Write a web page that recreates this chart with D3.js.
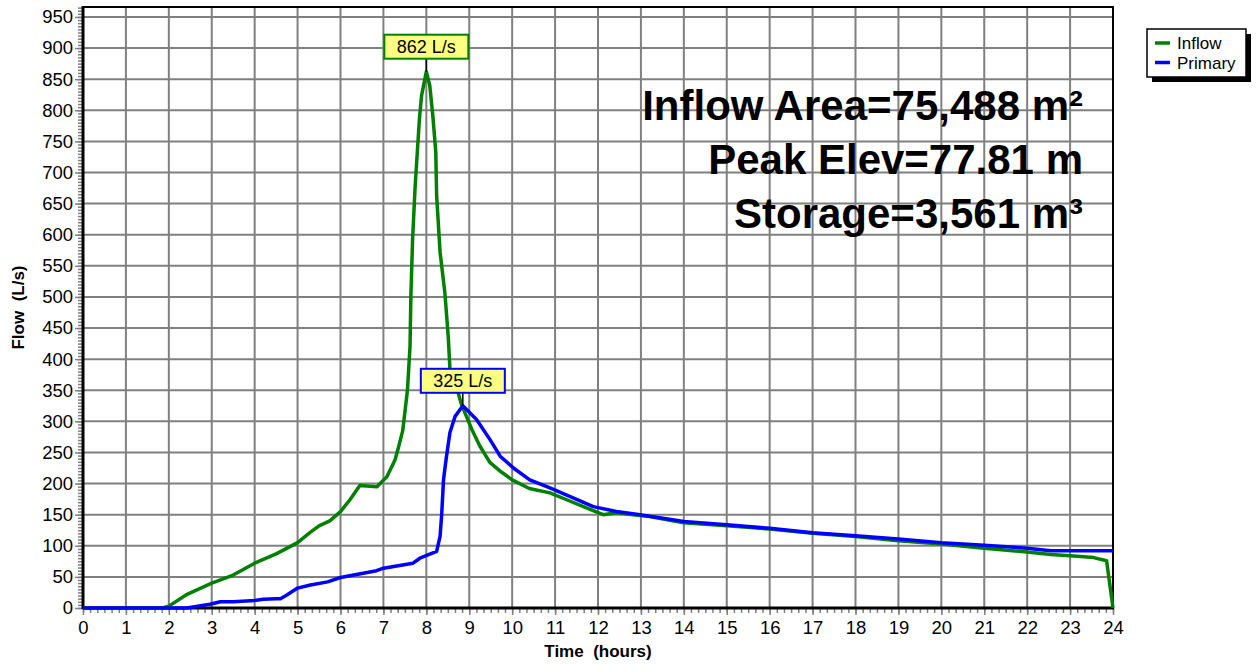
<!DOCTYPE html>
<html>
<head>
<meta charset="utf-8">
<script src="https://cdn.jsdelivr.net/npm/d3@7"></script>
<style>
  body { margin: 0; background: #fff; }
  text { font-family: "Liberation Sans", Arial, sans-serif; white-space: pre; }
</style>
</head>
<body>
<div id="chartDiv"></div>
<script>
// hydrograph values (hours, L/s)
const inflowTime = [0, 1.85, 2.0, 2.4, 3.0, 3.5, 4.0, 4.5, 5.0, 5.3, 5.5, 5.75, 6.0, 6.22, 6.45, 6.85, 7.08, 7.27, 7.35, 7.45, 7.56, 7.62, 7.64, 7.68, 7.74, 7.79, 7.84, 7.89, 8.0,
  8.08, 8.15, 8.22, 8.24, 8.32, 8.43, 8.51, 8.55, 8.74, 8.82, 9.06, 9.25, 9.48, 9.72, 10.0, 10.4, 10.88, 11.27, 11.73, 12.12, 12.43, 12.82, 13.2,
  14, 15, 16, 17, 18, 19, 20, 21, 22, 22.55, 23, 23.55, 23.85, 24.0];
const inflowFlow = [0, 0, 3, 21, 40, 53, 72, 87, 105, 122, 132, 140, 155, 174, 197, 195, 211, 238, 258, 285, 350, 421, 502, 593, 679, 733, 787, 824, 862,
  840, 792, 733, 663, 572, 508, 437, 384, 346, 327, 287, 260, 234, 220, 206, 192, 185, 174, 161, 150, 153, 150, 147,
  137, 132, 127, 120, 115, 108, 103, 96, 90, 86, 84, 81, 76, 0];

const primaryTime = [0, 2.42, 2.96, 3.2, 3.5, 3.7, 4.0, 4.2, 4.5, 4.6, 4.75, 5.0, 5.3, 5.7, 6.0, 6.84, 7.0, 7.69, 7.85, 8.24, 8.32, 8.36, 8.4, 8.47, 8.55, 8.67, 8.85,
  9.17, 9.48, 9.72, 10.03, 10.41, 10.88, 11.42, 11.89, 12.43, 12.98, 14, 15, 16, 17, 18, 19, 20, 21, 22, 22.55, 23, 24];
const primaryFlow = [0, 0, 6, 10, 10, 11, 12, 14, 15, 15, 21, 32, 37, 42, 49, 60, 64, 72, 80, 91, 115, 153, 206, 244, 282, 308, 325,
  303, 271, 244, 225, 206, 193, 177, 163, 155, 150, 139, 134, 128, 121, 116, 111, 105, 101, 96, 92, 92, 92];

const seriesNames = ["Inflow", "Primary"];
const seriesColors = ["#008000", "#0000ff"];

const peakLabels = ["862 L/s", "325 L/s"];
const peakTimes = [8.0, 8.85];
const peakFlows = [862, 325];

const infoLines = ["Inflow Area=75,488 m²", "Peak Elev=77.81 m", "Storage=3,561 m³"];

const xTickValues = d3.range(0, 25, 1);
const yTickValues = d3.range(0, 951, 50);

const width = 1257, height = 664;
const plotLeft = 83, plotRight = 1113, plotTop = 7, plotBottom = 608;

const svg = d3.select("#chartDiv").append("svg")
    .attr("width", width)
    .attr("height", height)
    .attr("viewBox", [0, 0, width, height]);

const x = d3.scaleLinear().domain([0, 24]).range([plotLeft, plotRight]);
const y = d3.scaleLinear().domain([0, 966]).range([plotBottom, plotTop]);

// grid
const grid = svg.append("g").attr("stroke", "#808080").attr("stroke-width", 2);
grid.selectAll(".vg").data(xTickValues.slice(1, -1)).enter().append("line")
    .attr("x1", d => x(d)).attr("x2", d => x(d))
    .attr("y1", plotTop).attr("y2", plotBottom);
grid.selectAll(".hg").data(yTickValues.slice(1)).enter().append("line")
    .attr("x1", plotLeft).attr("x2", plotRight)
    .attr("y1", d => y(d)).attr("y2", d => y(d));

// axes
const xAxis = svg.append("g")
    .attr("transform", `translate(0,${plotBottom})`)
    .call(d3.axisBottom(x).tickValues(xTickValues).tickSize(7).tickPadding(6).tickFormat(d3.format("d")));
svg.append("g")
    .attr("transform", `translate(0,${plotBottom})`)
    .call(d3.axisBottom(x).tickValues(d3.range(0, 24.01, 1 / 6)).tickSize(5).tickFormat(""))
    .call(g => g.select(".domain").remove());

const yAxis = svg.append("g")
    .attr("transform", `translate(${plotLeft},0)`)
    .call(d3.axisLeft(y).tickValues(yTickValues).tickSize(8).tickPadding(2));
svg.append("g")
    .attr("transform", `translate(${plotLeft},0)`)
    .call(d3.axisLeft(y).tickValues(d3.range(0, 966, 5)).tickSize(5).tickFormat(""))
    .call(g => g.select(".domain").remove());

svg.selectAll(".tick line").attr("stroke", "#808080").attr("stroke-width", 1.5);
[xAxis, yAxis].forEach(a => {
  a.selectAll("text").attr("font-size", 18.5).attr("fill", "#000")
      .style("font-family", '"Liberation Sans", Arial, sans-serif');
  a.select(".domain").remove();
});

// frame
svg.append("rect")
    .attr("x", plotLeft).attr("y", plotTop)
    .attr("width", plotRight - plotLeft).attr("height", plotBottom - plotTop)
    .attr("fill", "none").attr("stroke", "#000").attr("stroke-width", 2);
svg.append("line").attr("x1", plotLeft).attr("x2", plotLeft).attr("y1", plotTop - 1).attr("y2", plotBottom + 1)
    .attr("stroke", "#000").attr("stroke-width", 3);
svg.append("line").attr("x1", plotLeft).attr("x2", plotRight + 1).attr("y1", plotBottom).attr("y2", plotBottom)
    .attr("stroke", "#000").attr("stroke-width", 3);

// axis titles
svg.append("text")
    .attr("transform", `translate(24,${(plotTop + plotBottom) / 2}) rotate(-90)`)
    .attr("text-anchor", "middle")
    .attr("font-size", 17).attr("font-weight", "bold")
    .text("Flow  (L/s)");
svg.append("text")
    .attr("x", 598).attr("y", 657)
    .attr("text-anchor", "middle")
    .attr("font-size", 17).attr("font-weight", "bold")
    .text("Time  (hours)");

// info text
svg.append("g").selectAll("text").data(infoLines).enter().append("text")
    .attr("x", 1083)
    .attr("y", (d, i) => 120 + i * 54)
    .attr("text-anchor", "end")
    .attr("font-size", 42).attr("font-weight", "bold")
    .text(d => d);

// series
const line = d3.line().x(d => x(d[0])).y(d => y(d[1]));
const series = [d3.zip(inflowTime, inflowFlow), d3.zip(primaryTime, primaryFlow)];
svg.append("g").selectAll("path").data(series).enter().append("path")
    .attr("d", line)
    .attr("fill", "none")
    .attr("stroke", (d, i) => seriesColors[i])
    .attr("stroke-width", 3.5)
    .attr("stroke-linejoin", "round");

// peak labels
const peaks = svg.append("g");
peakLabels.forEach((label, i) => {
  const px = x(peakTimes[i]), py = y(peakFlows[i]);
  const by = py - 13;
  peaks.append("line")
      .attr("x1", px).attr("x2", px).attr("y1", by).attr("y2", py)
      .attr("stroke", "#000").attr("stroke-width", 1.5);
  peaks.append("rect")
      .attr("x", px - 42).attr("y", by - 24)
      .attr("width", 84).attr("height", 24)
      .attr("fill", "#ffff80")
      .attr("stroke", seriesColors[i]).attr("stroke-width", 2);
  peaks.append("text")
      .attr("x", px).attr("y", by - 6)
      .attr("text-anchor", "middle")
      .attr("font-size", 18)
      .text(label);
});

// legend
const legend = svg.append("g").attr("transform", "translate(1147,29)");
legend.append("rect").attr("x", 5).attr("y", 5).attr("width", 99).attr("height", 48).attr("fill", "#000");
legend.append("rect").attr("width", 99).attr("height", 48)
    .attr("fill", "#fff").attr("stroke", "#000").attr("stroke-width", 1.5);
seriesNames.forEach((name, i) => {
  const ly = 14 + i * 19.5;
  legend.append("line")
      .attr("x1", 8).attr("x2", 23).attr("y1", ly).attr("y2", ly)
      .attr("stroke", seriesColors[i]).attr("stroke-width", 3.5);
  legend.append("text")
      .attr("x", 30).attr("y", ly + 6)
      .attr("font-size", 17)
      .text(name);
});
</script>
</body>
</html>
